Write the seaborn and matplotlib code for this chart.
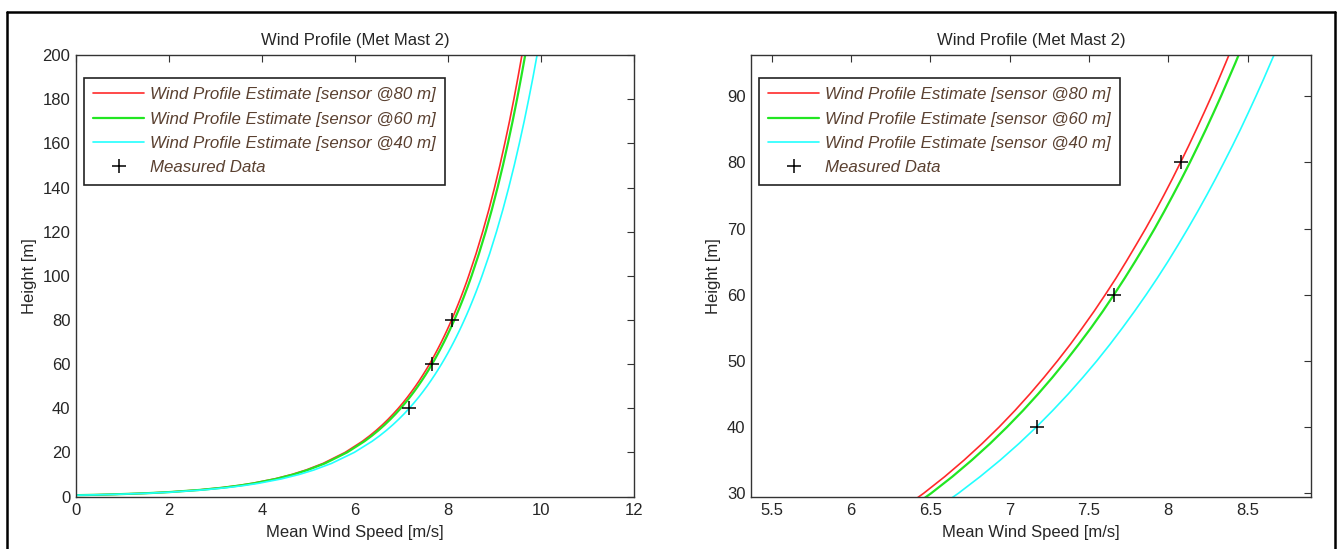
import numpy as np
import pandas as pd
import matplotlib
matplotlib.use("Agg")
import matplotlib.pyplot as plt
import seaborn as sns
from matplotlib.lines import Line2D

heights = [0.6, 0.8, 1, 1.5, 2, 3, 4, 5, 6, 8, 10, 12, 15, 20, 25,
           27.5, 30, 32.5, 35, 37.5, 40, 42.5, 45, 47.5, 50, 52.5, 55, 57.5, 60,
           62.5, 65, 67.5, 70, 72.5, 75, 77.5, 80, 82.5, 85, 87.5, 90, 92.5, 95, 97.5,
           100, 110, 120, 130, 140, 150, 160, 170, 180, 190, 200]

# wind speed [m/s] per estimate
speed_80 = [0.0, 0.475, 0.843, 1.513, 1.988, 2.657, 3.132, 3.501, 3.802, 4.277, 4.645,
            4.946, 5.314, 5.789, 6.158,
            6.315, 6.459, 6.591, 6.713, 6.827, 6.934, 7.034, 7.128, 7.217, 7.302, 7.383,
            7.459, 7.533, 7.603, 7.671, 7.735, 7.797, 7.858, 7.916, 7.972, 8.026, 8.078,
            8.129, 8.178, 8.226, 8.273, 8.318, 8.362, 8.405,
            8.446, 8.604, 8.747, 8.880, 9.002, 9.116, 9.222, 9.323, 9.417, 9.506, 9.591]
speed_60 = [0.0, 0.478, 0.849, 1.524, 2.002, 2.676, 3.155, 3.526, 3.829, 4.308, 4.679,
            4.982, 5.353, 5.831, 6.202,
            6.361, 6.506, 6.639, 6.762, 6.877, 6.984, 7.085, 7.180, 7.270, 7.355, 7.436,
            7.514, 7.588, 7.658, 7.726, 7.791, 7.854, 7.915, 7.973, 8.029, 8.084, 8.137,
            8.188, 8.238, 8.286, 8.333, 8.378, 8.423, 8.466,
            8.508, 8.666, 8.811, 8.944, 9.067, 9.182, 9.289, 9.390, 9.485, 9.575, 9.661]
speed_40 = [0.0, 0.491, 0.872, 1.564, 2.055, 2.747, 3.238, 3.619, 3.931, 4.422, 4.803,
            5.114, 5.495, 5.986, 6.367,
            6.529, 6.678, 6.814, 6.941, 7.059, 7.169, 7.272, 7.370, 7.462, 7.550, 7.633,
            7.712, 7.788, 7.861, 7.931, 7.998, 8.062, 8.124, 8.184, 8.242, 8.298, 8.352,
            8.405, 8.456, 8.505, 8.553, 8.600, 8.645, 8.690,
            8.733, 8.896, 9.044, 9.181, 9.307, 9.425, 9.535, 9.639, 9.736, 9.829, 9.916]

measured_speed = [7.17, 7.66, 8.08]
measured_height = [40, 60, 80]

labels = ["Wind Profile Estimate [sensor @80 m]",
          "Wind Profile Estimate [sensor @60 m]",
          "Wind Profile Estimate [sensor @40 m]",
          "Measured Data"]
colors = ["#ff2a2a", "#22e622", "#22ffff"]
widths = [1.2, 1.6, 1.2]

sns.set_style("white")
plt.rcParams["font.family"] = ["Liberation Sans", "DejaVu Sans"]

fig = plt.figure(figsize=(13.38, 5.49), dpi=100)
ax_left = fig.add_axes([0.0568, 0.0956, 0.417, 0.804])
ax_right = fig.add_axes([0.5613, 0.0956, 0.4185, 0.804])

series = [speed_80, speed_60, speed_40]
text_col = "#262626"


def draw_panel(ax, xlim, ylim, xticks, yticks, xticklabels):
    for spd, col, lw in zip(series, colors, widths):
        df = pd.DataFrame({"speed": spd, "height": heights})
        sns.lineplot(data=df, x="speed", y="height", ax=ax, color=col, lw=lw,
                     sort=False, estimator=None)
    sns.scatterplot(x=measured_speed, y=measured_height, ax=ax, marker="+",
                    s=100, color="black", linewidth=1.1, zorder=5)
    ax.set_xlim(*xlim)
    ax.set_ylim(*ylim)
    ax.set_xticks(xticks)
    ax.set_xticklabels(xticklabels)
    ax.set_yticks(yticks)
    ax.tick_params(direction="in", length=5, width=0.8, top=True, right=True,
                   labelsize=12, pad=4, colors="#333333")
    ax.tick_params(axis="x", pad=5)
    ax.tick_params(axis="both", labelcolor=text_col)
    for s in ax.spines.values():
        s.set_color("#333333")
        s.set_linewidth(1.0)
    ax.set_title("Wind Profile (Met Mast 2)", fontsize=12, color=text_col, pad=7)
    ax.set_xlabel("Mean Wind Speed [m/s]", fontsize=12, color=text_col, labelpad=5)
    ax.set_ylabel("Height [m]", fontsize=12, color=text_col, labelpad=4)

    handles = [Line2D([], [], color=c, lw=w) for c, w in zip(colors, widths)]
    handles.append(Line2D([], [], color="black", marker="+", ls="none",
                          markersize=10, mew=1.1))
    leg = ax.legend(handles, labels, loc="upper left", bbox_to_anchor=(0.014, 0.948),
                    borderaxespad=0, fancybox=False, framealpha=1, edgecolor="#222222",
                    prop={"style": "italic", "size": 12.2}, labelcolor="#5a4030",
                    handlelength=3.0, handletextpad=0.35, labelspacing=0.55,
                    borderpad=0.55)
    leg.get_frame().set_linewidth(1.2)


draw_panel(ax_left, (0, 12), (0, 200), range(0, 13, 2), range(0, 201, 20),
           [str(v) for v in range(0, 13, 2)])
draw_panel(ax_right, (5.37, 8.9), (29.5, 96.2), [5.5, 6, 6.5, 7, 7.5, 8, 8.5],
           range(30, 91, 10), ["5.5", "6", "6.5", "7", "7.5", "8", "8.5"])

# outer frame around the figure
fig.add_artist(Line2D([0.005, 0.005], [0.0, 0.978], color="black", lw=1.8,
                      transform=fig.transFigure))
fig.add_artist(Line2D([0.005, 0.998], [0.978, 0.978], color="black", lw=1.8,
                      transform=fig.transFigure))
fig.add_artist(Line2D([0.998, 0.998], [0.0, 0.978], color="black", lw=1.8,
                      transform=fig.transFigure))

fig.savefig("out.png", dpi=100)
